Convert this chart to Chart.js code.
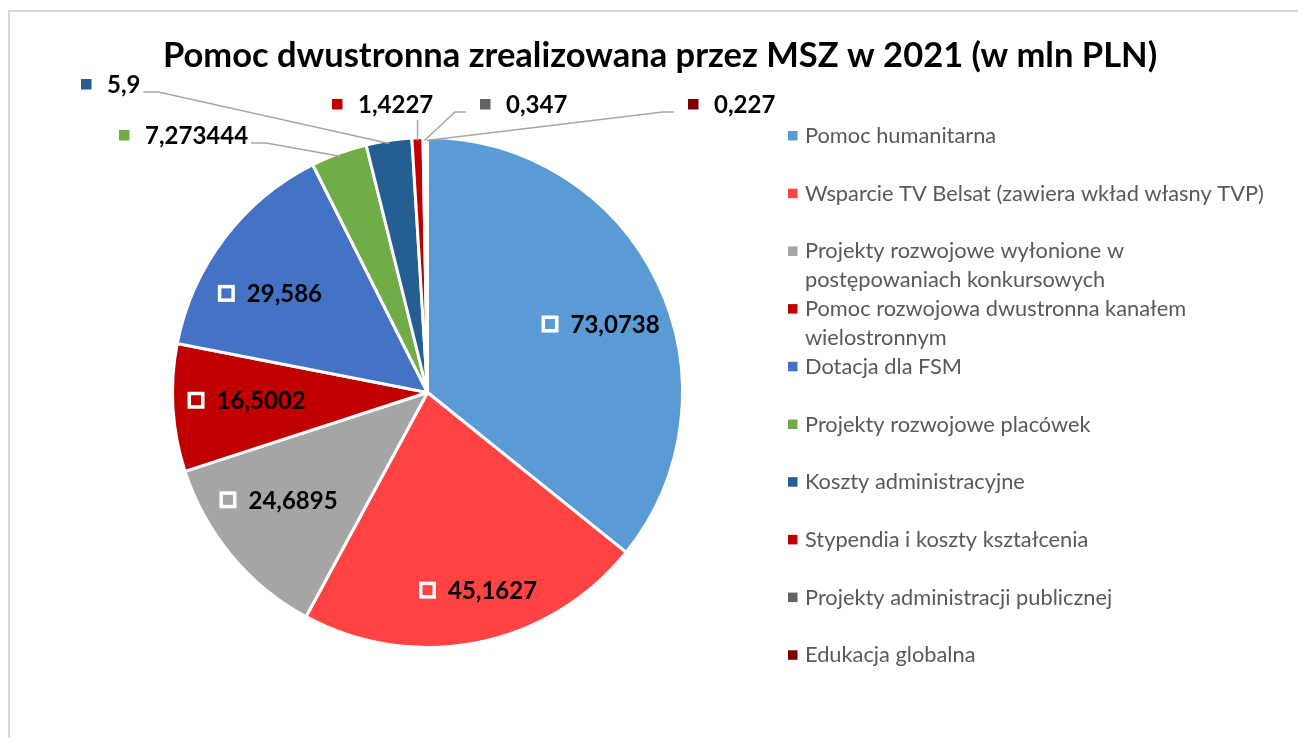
<!DOCTYPE html>
<html>
<head>
<meta charset="utf-8">
<script src="https://cdn.jsdelivr.net/npm/chart.js@4.4.0/dist/chart.umd.min.js"></script>
<style>
  html, body { margin: 0; padding: 0; background: #fff; overflow: hidden; }
  canvas { display: block; }
</style>
</head>
<body>
<canvas id="pieChart" width="1298" height="738"></canvas>
<script>
// ============= data =============
const chartTitle = 'Pomoc dwustronna zrealizowana przez MSZ w 2021 (w mln PLN)';
const categories = [
  'Pomoc humanitarna',
  'Wsparcie TV Belsat (zawiera wkład własny TVP)',
  ['Projekty rozwojowe wyłonione w', 'postępowaniach konkursowych'],
  ['Pomoc rozwojowa dwustronna kanałem', 'wielostronnym'],
  'Dotacja dla FSM',
  'Projekty rozwojowe placówek',
  'Koszty administracyjne',
  'Stypendia i koszty kształcenia',
  'Projekty administracji publicznej',
  'Edukacja globalna'
];
const values = [73.0738, 45.1627, 24.6895, 16.5002, 29.586, 7.273444, 5.9, 1.4227, 0.347, 0.227];
const colors = ['#5B9BD5', '#FF4343', '#A5A5A5', '#C00000', '#4472C4', '#70AD47', '#255E91', '#C00000', '#636363', '#7A0000'];

// ============= label layout (not data) =============
// inside labels: [radius factor, angle nudge in degrees]
const insidePlacement = { 0: [0.73, 4], 1: [0.8, -3], 2: [0.72, 4], 3: [0.71, 1], 4: [0.73, -5] };
// outside labels: marker left x, center y
const outsidePlacement = { 5: [119, 135], 6: [81, 84], 7: [332, 104], 8: [480, 104], 9: [688, 104] };

const FONT = 'Lato, "Open Sans", sans-serif';

function fmt(v) {
  return String(v).replace('.', ',');
}

// draws title, border, data labels and the legend
const decorPlugin = {
  id: 'decor',
  beforeDraw(chart) {
    const ctx = chart.ctx;
    ctx.save();
    ctx.fillStyle = '#fff';
    ctx.fillRect(0, 0, chart.width, chart.height);
    ctx.strokeStyle = '#D9D9D9';
    ctx.lineWidth = 2;
    ctx.strokeRect(9, 11, chart.width + 50, chart.height + 50);
    ctx.restore();
  },
  afterDraw(chart) {
    const ctx = chart.ctx;
    const meta = chart.getDatasetMeta(0);
    const ds = chart.data.datasets[0];
    ctx.save();

    // title
    ctx.fillStyle = '#000';
    ctx.font = 'bold 34.5px ' + FONT;
    ctx.textAlign = 'center';
    ctx.textBaseline = 'middle';
    ctx.fillText(chartTitle, 660, 56);

    // data labels
    ctx.font = 'bold 24px ' + FONT;
    ctx.textAlign = 'left';
    meta.data.forEach((arc, i) => {
      const p = arc.getProps(['x', 'y', 'startAngle', 'endAngle', 'outerRadius'], true);
      const mid = (p.startAngle + p.endAngle) / 2;
      const text = fmt(ds.data[i]);
      const tw = ctx.measureText(text).width;
      if (insidePlacement[i]) {
        const [rf, nudge] = insidePlacement[i];
        const a = mid + nudge * Math.PI / 180;
        const cx = p.x + Math.cos(a) * p.outerRadius * rf;
        const cy = p.y + Math.sin(a) * p.outerRadius * rf;
        const blockW = 17 + 12 + tw;
        const x0 = cx - blockW / 2;
        // white outlined key
        ctx.fillStyle = '#fff';
        ctx.fillRect(x0, cy - 8.5, 17, 17);
        ctx.fillStyle = ds.backgroundColor[i];
        ctx.fillRect(x0 + 3.5, cy - 5, 10, 10);
        ctx.fillStyle = '#000';
        ctx.fillText(text, x0 + 29, cy + 1);
      } else if (outsidePlacement[i]) {
        const [mx, my] = outsidePlacement[i];
        const tx = mx + 26;
        const ax = p.x + Math.cos(mid) * (p.outerRadius - 3);
        const ay = p.y + Math.sin(mid) * (p.outerRadius - 3);
        // leader line
        ctx.strokeStyle = '#A6A6A6';
        ctx.lineWidth = 1.5;
        ctx.beginPath();
        if (ax > tx + tw + 4) {
          ctx.moveTo(tx + tw + 3, my + 8);
          ctx.lineTo(tx + tw + 18, my + 8);
        } else if (ax < mx) {
          ctx.moveTo(mx - 14, my + 8);
          ctx.lineTo(mx - 25, my + 8);
        } else {
          ctx.moveTo(ax, my + 16);
        }
        ctx.lineTo(ax, ay);
        ctx.stroke();
        ctx.fillStyle = ds.backgroundColor[i];
        ctx.fillRect(mx, my - 5, 10.5, 10.5);
        ctx.fillStyle = '#000';
        ctx.fillText(text, tx, my + 1);
      }
    });

    // legend
    ctx.font = '21.8px ' + FONT;
    ctx.textBaseline = 'middle';
    chart.data.labels.forEach((lab, i) => {
      const y = 136 + i * 57.7;
      ctx.fillStyle = ds.backgroundColor[i];
      ctx.fillRect(788, y - 5, 9.5, 9.5);
      ctx.fillStyle = '#595959';
      const lines = Array.isArray(lab) ? lab : [lab];
      lines.forEach((ln, k) => ctx.fillText(ln, 805, y + k * 29));
    });
    ctx.restore();
  }
};

new Chart(document.getElementById('pieChart').getContext('2d'), {
  type: 'pie',
  data: {
    labels: categories,
    datasets: [{
      data: values,
      backgroundColor: colors,
      borderColor: '#fff',
      borderWidth: 3
    }]
  },
  options: {
    responsive: false,
    animation: false,
    layout: { padding: { left: 171, top: 136, right: 614, bottom: 89 } },
    plugins: {
      legend: { display: false },
      tooltip: { enabled: false }
    }
  },
  plugins: [decorPlugin]
});
</script>
</body>
</html>
